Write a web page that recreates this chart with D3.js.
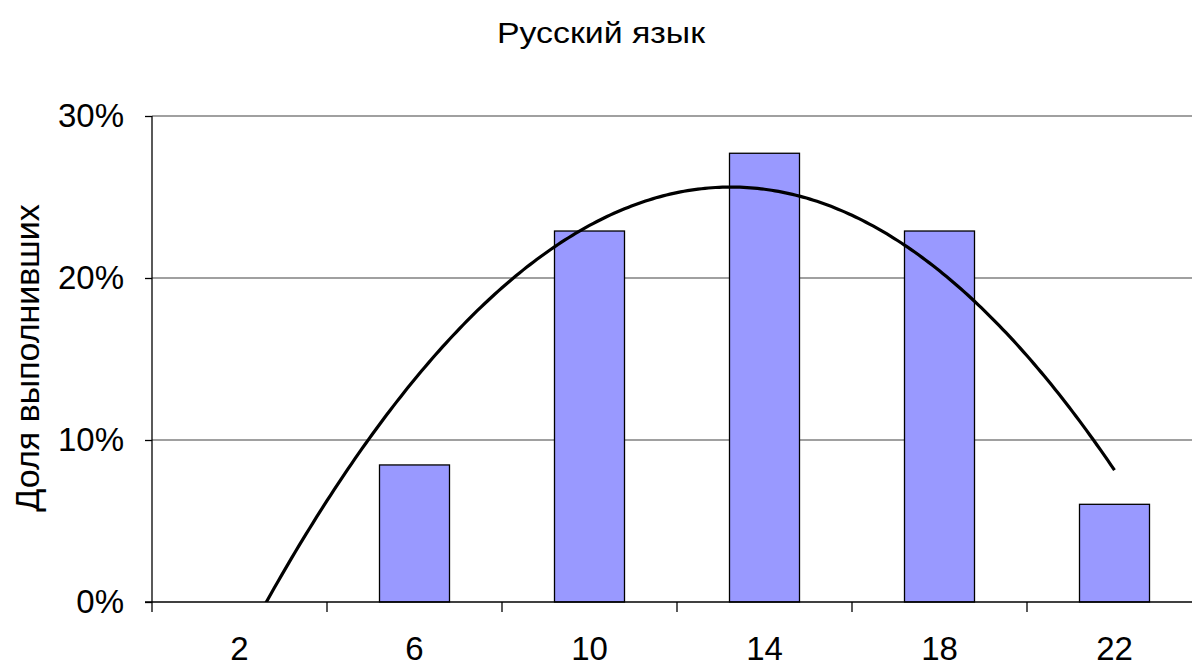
<!DOCTYPE html>
<html>
<head>
<meta charset="utf-8">
<script src="https://cdn.jsdelivr.net/npm/d3@7"></script>
<style>
  body { margin: 0; background: #fff; overflow: hidden; }
  svg { display: block; font-family: "Liberation Sans", Arial, sans-serif; }
</style>
</head>
<body>
<svg width="1192" height="666"></svg>
<script>
var categories = ["2", "6", "10", "14", "18", "22"];
var shares = [0, 0.0846, 0.229, 0.277, 0.229, 0.0603];
var yTicks = [0, 0.1, 0.2, 0.3];

var title = "Русский язык";
var yTitle = "Доля выполнивших";

var svg = d3.select("svg");
var plotLeft = 152, plotRight = 1202, plotTop = 116, plotBottom = 602;

var x = d3.scaleBand()
	.domain(categories)
	.range([plotLeft, plotRight])
	.padding(0);

var y = d3.scaleLinear()
	.domain([0, 0.3])
	.range([plotBottom, plotTop]);

// gridlines
svg.append("g")
	.selectAll("line")
	.data(yTicks.filter(function(d) { return d > 0; }))
	.enter()
	.append("line")
	.attr("x1", plotLeft)
	.attr("x2", plotRight)
	.attr("y1", function(d) { return y(d); })
	.attr("y2", function(d) { return y(d); })
	.style("stroke", "#808080")
	.style("stroke-width", 1.3);

// bars
var barData = categories.map(function(c, i) { return {cat: c, v: shares[i]}; })
	.filter(function(d) { return d.v > 0; });
var barW = x.bandwidth() * 0.4;

svg.append("g")
	.selectAll("rect")
	.data(barData)
	.enter()
	.append("rect")
	.attr("x", function(d) { return x(d.cat) + (x.bandwidth() - barW) / 2; })
	.attr("y", function(d) { return y(d.v); })
	.attr("width", barW)
	.attr("height", function(d) { return plotBottom - y(d.v); })
	.style("fill", "#9999ff")
	.style("stroke", "#000")
	.style("stroke-width", 1.3);

// polynomial (order 2) trendline, least squares over category index 1..n
var n = shares.length;
var idx = d3.range(1, n + 1);
var mean = d3.mean(idx);
var s2 = 0, s4 = 0, sy = 0, sty = 0, st2y = 0;
idx.forEach(function(v, i) {
	var t = v - mean;
	s2 += t * t; s4 += t * t * t * t;
	sy += shares[i]; sty += t * shares[i]; st2y += t * t * shares[i];
});
var b = sty / s2;
var c = (n * st2y - s2 * sy) / (n * s4 - s2 * s2);
var a = (sy - c * s2) / n;
var fit = function(v) { var t = v - mean; return a + b * t + c * t * t; };

var xi = d3.scaleLinear()
	.domain([1, n])
	.range([x(categories[0]) + x.bandwidth() / 2, x(categories[n - 1]) + x.bandwidth() / 2]);

svg.append("clipPath")
	.attr("id", "plot")
	.append("rect")
	.attr("x", plotLeft)
	.attr("y", plotTop - 20)
	.attr("width", plotRight - plotLeft)
	.attr("height", plotBottom - plotTop + 20);

var line = d3.line()
	.x(function(d) { return xi(d); })
	.y(function(d) { return y(fit(d)); });

svg.append("path")
	.datum(d3.range(1, n + 0.0001, 0.02))
	.attr("d", line)
	.attr("clip-path", "url(#plot)")
	.style("fill", "none")
	.style("stroke", "#000")
	.style("stroke-width", 3.2);

// axes
var yAxis = svg.append("g")
	.attr("transform", "translate(" + plotLeft + ",0)")
	.call(d3.axisLeft(y).tickValues(yTicks).tickFormat(d3.format(".0%")).tickSize(7).tickPadding(21));
yAxis.select(".domain").attr("d", "M0," + plotTop + "V" + plotBottom).style("stroke-width", 1.3);
yAxis.selectAll("line").style("stroke", "#000").style("stroke-width", 1.3);
yAxis.selectAll("text")
	.attr("font-size", null)
	.attr("font-family", null)
	.style("font-size", "33px")
	.style("fill", "#000");

var xAxis = svg.append("g")
	.attr("transform", "translate(0," + plotBottom + ")");
xAxis.append("line")
	.attr("x1", plotLeft - 7).attr("x2", plotRight)
	.style("stroke", "#000").style("stroke-width", 1.3);
xAxis.selectAll(".tk")
	.data(categories)
	.enter()
	.append("line")
	.attr("class", "tk")
	.attr("x1", function(d) { return x(d); })
	.attr("x2", function(d) { return x(d); })
	.attr("y1", 0).attr("y2", 10)
	.style("stroke", "#000").style("stroke-width", 1.3);
xAxis.selectAll("text")
	.data(categories)
	.enter()
	.append("text")
	.attr("x", function(d) { return x(d) + x.bandwidth() / 2; })
	.attr("y", 58)
	.attr("text-anchor", "middle")
	.style("font-size", "33px")
	.text(function(d) { return d; });

// titles
svg.append("text")
	.attr("x", 601)
	.attr("y", 43)
	.attr("text-anchor", "middle")
	.attr("textLength", 208)
	.attr("lengthAdjust", "spacingAndGlyphs")
	.style("font-size", "29px")
	.text(title);

svg.append("text")
	.attr("transform", "translate(39,358) rotate(-90)")
	.attr("text-anchor", "middle")
	.style("font-size", "34px")
	.text(yTitle);
</script>
</body>
</html>
